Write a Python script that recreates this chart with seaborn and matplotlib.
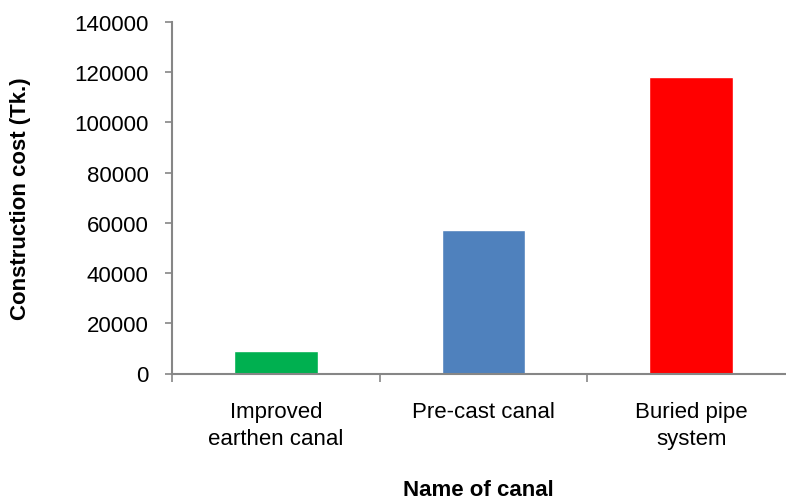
import matplotlib
matplotlib.use("Agg")
import matplotlib.pyplot as plt
import seaborn as sns
import pandas as pd
from matplotlib.ticker import FixedLocator

# Construction cost per canal type
canals = ["Improved\nearthen canal", "Pre-cast canal", "Buried pipe\nsystem"]
costs = [9000, 57000, 118000]
bar_colors = ["#00B050", "#4F81BD", "#FF0000"]
y_ticks = [0, 20000, 40000, 60000, 80000, 100000, 120000, 140000]

sns.set_theme(style="white")
plt.rcParams["font.family"] = ["Liberation Sans", "DejaVu Sans"]

df = pd.DataFrame({"canal": canals, "cost": costs})

fig = plt.figure(figsize=(7.86, 5.02), dpi=100)
ax = fig.add_axes([172 / 786, 127.5 / 502, 623 / 786, 351.5 / 502])

sns.barplot(data=df, x="canal", y="cost", hue="canal", palette=bar_colors,
            width=0.404, saturation=1, legend=False, ax=ax)

axis_gray = "#868686"
fs = 16
ax.set_xlim(-0.5, 2.5)
ax.set_ylim(0, 140000)
ax.set_yticks(y_ticks)
ax.set_yticklabels([str(v) for v in y_ticks], fontsize=fs, color="black")

# category separators as minor ticks, labels on unmarked major ticks
ax.xaxis.set_minor_locator(FixedLocator([-0.5, 0.5, 1.5, 2.5]))
ax.tick_params(axis="x", which="major", length=0, pad=20, labelsize=fs,
               labelcolor="black")
ax.tick_params(axis="x", which="minor", length=6, width=1.2, color=axis_gray,
               bottom=True, direction="out")
ax.tick_params(axis="y", which="major", length=5, width=1.2, color=axis_gray,
               left=True, direction="out", pad=12)
for lbl in ax.get_xticklabels():
    lbl.set_linespacing(1.35)

for side in ["top", "right"]:
    ax.spines[side].set_visible(False)
for side in ["left", "bottom"]:
    ax.spines[side].set_color(axis_gray)
    ax.spines[side].set_linewidth(1.5)

ax.set_xlabel("Name of canal", fontsize=fs, fontweight="bold", color="black")
ax.set_ylabel("Construction cost (Tk.)", fontsize=fs, fontweight="bold",
              color="black")
ax.xaxis.set_label_coords((478 - 172) / 623, -(480 - 374.5) / 351.5)
ax.yaxis.set_label_coords(-(172 - 31) / 623, 0.5)

fig.savefig("out.png", dpi=100)
